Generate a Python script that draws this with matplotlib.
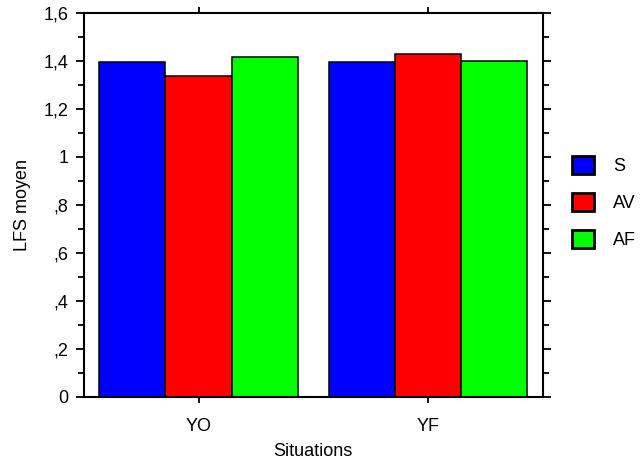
import matplotlib.pyplot as plt
from matplotlib.patches import Patch
from matplotlib.ticker import MultipleLocator
import numpy as np

plt.rcParams['font.family'] = ['Liberation Sans', 'DejaVu Sans']

situations = ['YO', 'YF']
groups = ['S', 'AV', 'AF']
values_S = [1.394, 1.394]
values_AV = [1.336, 1.429]
values_AF = [1.418, 1.401]
colors = ['#0000ff', '#ff0000', '#00ff00']
y_ticks = [0, 0.2, 0.4, 0.6, 0.8, 1.0, 1.2, 1.4, 1.6]
y_tick_labels = ['0', ',2', ',4', ',6', ',8', '1', '1,2', '1,4', '1,6']

fig = plt.figure(figsize=(6.44, 4.61), dpi=100)
ax = fig.add_axes([0.130, 0.139, 0.713, 0.833])

x = np.arange(len(situations))
w = 0.288
for i, (vals, c, lab) in enumerate(zip([values_S, values_AV, values_AF], colors, groups)):
    ax.bar(x + (i - 1) * w, vals, w, color=c, edgecolor='black', linewidth=1.1, label=lab)

ax.set_xlim(-0.5, 1.5)
ax.set_ylim(0, 1.6)
ax.set_xticks(x)
ax.set_xticklabels(situations, fontsize=13)
ax.set_yticks(y_ticks)
ax.set_yticklabels(y_tick_labels, fontsize=13)
ax.yaxis.set_minor_locator(MultipleLocator(0.1))
ax.tick_params(axis='y', which='both', direction='out', left=True, right=True, width=1.3)
ax.tick_params(axis='y', which='major', length=6, pad=5)
ax.tick_params(axis='y', which='minor', length=4)
ax.tick_params(axis='x', direction='out', top=True, bottom=True, length=4, width=1.3, pad=11)
for s in ax.spines.values():
    s.set_linewidth(1.5)

ax.set_xlabel('Situations', fontsize=13, labelpad=6)
ax.set_ylabel('LFS moyen', fontsize=13, labelpad=9)

# legend: square colour boxes to the right of the axes
handles = [Patch(facecolor=c, edgecolor='black', linewidth=2) for c in colors]
fig.legend(handles, groups, loc='upper left', bbox_to_anchor=(0.888, 0.662),
           frameon=False, fontsize=13, handlelength=1.2, handleheight=1.2,
           labelspacing=0.98, handletextpad=1.1, borderpad=0, borderaxespad=0)

fig.savefig('out.png', dpi=100)
